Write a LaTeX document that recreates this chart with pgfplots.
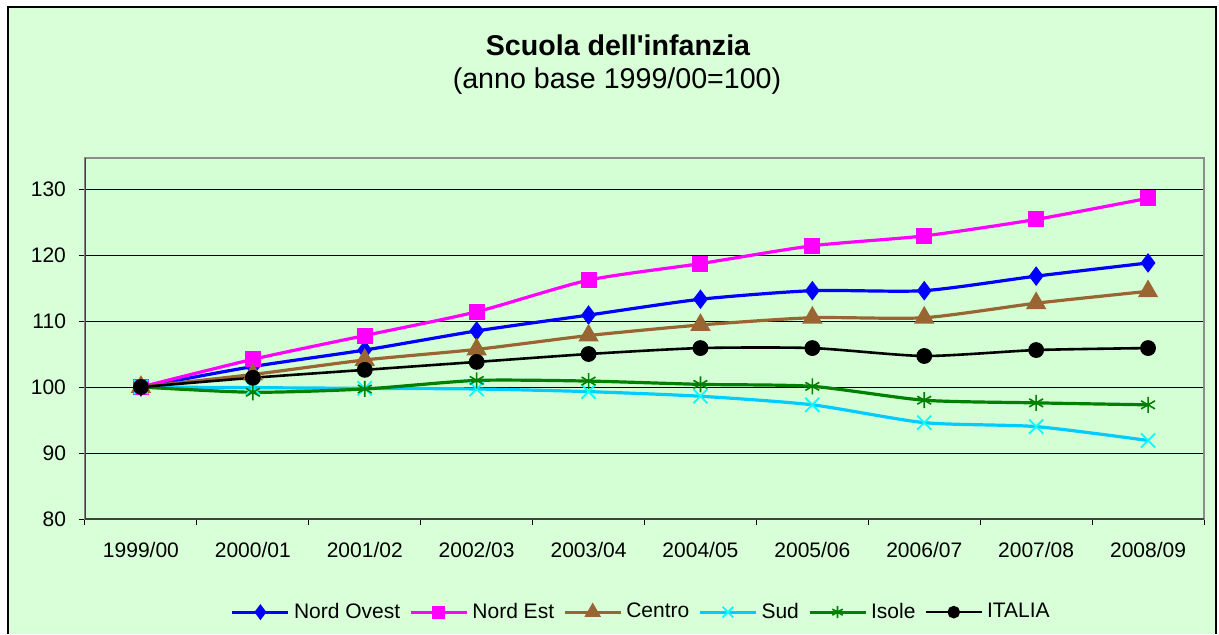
\documentclass[border=0pt]{standalone}
\usepackage{fontspec}
\setmainfont{Liberation Sans}
\newfontfamily\arial{Liberation Sans}
\usepackage{pgfplots}
\pgfplotsset{compat=1.18}
\definecolor{bg}{HTML}{D9FFD9}
\definecolor{plotbg}{HTML}{D4FFD4}
\definecolor{cbrown}{HTML}{996633}
\definecolor{cmag}{HTML}{FF00FF}
\definecolor{cblue}{HTML}{0000FF}
\definecolor{csudline}{HTML}{00CCFF}
\definecolor{csudmark}{HTML}{00FFFF}
\definecolor{cgreen}{HTML}{008000}
\begin{document}
\begin{tikzpicture}[x=0.5pt,y=0.5pt]
\useasboundingbox (0,0) rectangle (1219,634);
\fill[white] (0,0) rectangle (1219,634);
\fill[bg] (8,0) rectangle (1216,627);
\draw[black, line width=0.6pt] (8,0) -- (8,627) -- (1216,627) -- (1216,0);
\node[font=\arial\bfseries\fontsize{14.3}{16}\selectfont] at (618,589) {Scuola dell'infanzia};
\node[font=\arial\fontsize{14.3}{16}\selectfont] at (617,553) {(anno base 1999/00=100)};
\begin{axis}[
  at={(42.5pt,57.5pt)}, anchor=south west,
  scale only axis, width=559.5pt, height=180.5pt,
  xmin=-0.5, xmax=9.5, ymin=80, ymax=134.7,
  xtick={-0.5,0.5,1.5,2.5,3.5,4.5,5.5,6.5,7.5,8.5,9.5},
  x tick label as interval,
  xticklabels={1999/00,2000/01,2001/02,2002/03,2003/04,2004/05,2005/06,2006/07,2007/08,2008/09},
  ytick={80,90,...,130},
  xtick pos=bottom, ytick pos=left,
  ymajorgrids, grid style={black, line width=0.5pt},
  tick align=outside, major tick length=3pt,
  tick style={black, line width=0.5pt},
  axis background/.style={fill=plotbg},
  axis line style={black!45, line width=0.9pt},
  /pgf/number format/assume math mode=true,
  tick label style={font=\fontsize{10.5}{12}\selectfont},
  xticklabel style={yshift=-5pt},
  yticklabel style={xshift=-3pt},
  legend style={at={(0.498,-0.258)}, anchor=center, draw=none, fill=none,
    font=\fontsize{10.5}{12}\selectfont, legend columns=-1,
    /tikz/every even column/.append style={column sep=2.5pt}},
  legend image code/.code={\draw[mark repeat=2,mark phase=2,#1,every mark/.append style={scale=0.75}] plot coordinates {(0pt,0pt) (14pt,0pt) (28pt,0pt)};},
  every axis plot/.append style={smooth, tension=0.4},
]
\addplot[cblue, line width=1.6pt, mark=diamond*, mark size=3.6pt, mark options={solid, fill=cblue}] coordinates {
(0,100) (1,103.1) (2,105.6) (3,108.5) (4,110.9) (5,113.3) (6,114.6) (7,114.6) (8,116.8) (9,118.8)};
\addlegendentry{Nord Ovest}
\addplot[cmag, line width=1.6pt, mark=square*, mark size=3.2pt, mark options={solid, fill=cmag}] coordinates {
(0,100) (1,104.2) (2,107.8) (3,111.4) (4,116.2) (5,118.7) (6,121.4) (7,122.9) (8,125.4) (9,128.6)};
\addlegendentry{Nord Est}
\addplot[cbrown, line width=1.6pt, mark=triangle*, mark size=4.3pt, mark options={solid, fill=cbrown}] coordinates {
(0,100) (1,101.9) (2,104.1) (3,105.7) (4,107.8) (5,109.4) (6,110.5) (7,110.5) (8,112.7) (9,114.5)};
\addlegendentry{Centro}
\addplot[csudline, line width=1.6pt, mark=x, mark size=5pt, mark options={solid, draw=csudmark, line width=0.9pt}] coordinates {
(0,100) (1,99.9) (2,99.8) (3,99.7) (4,99.3) (5,98.6) (6,97.3) (7,94.6) (8,94.0) (9,91.9)};
\addlegendentry{Sud}
\addplot[cgreen, line width=1.6pt, mark=asterisk, mark size=4pt, mark options={solid, line width=0.8pt}] coordinates {
(0,100) (1,99.2) (2,99.7) (3,101.0) (4,100.9) (5,100.4) (6,100.1) (7,98.0) (8,97.6) (9,97.3)};
\addlegendentry{Isole}
\addplot[black, line width=1.3pt, mark=*, mark size=3.3pt, mark options={solid, fill=black}] coordinates {
(0,100) (1,101.4) (2,102.6) (3,103.8) (4,105.0) (5,105.9) (6,105.9) (7,104.7) (8,105.6) (9,105.9)};
\addlegendentry{ITALIA}
\draw[black!75, line width=0.9pt] (rel axis cs:0,1) -- (rel axis cs:0,0) -- (rel axis cs:1,0);
\end{axis}
\end{tikzpicture}
\end{document}
